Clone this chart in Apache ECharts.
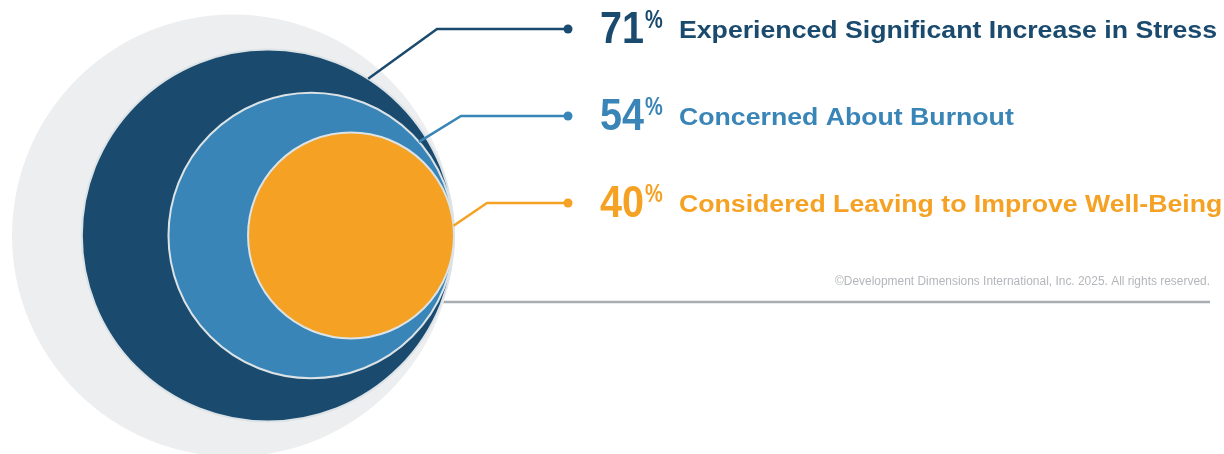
<!DOCTYPE html>
<html><head><meta charset="utf-8">
<script src="https://cdn.jsdelivr.net/npm/echarts@6/dist/echarts.min.js"></script>
<style>html,body{margin:0;padding:0;background:#fff}#c{width:1224px;height:454px}</style>
</head><body><div id="c"></div>
<script>
// ---- data ----
const categories = [
  'Experienced Significant Increase in Stress',
  'Concerned About Burnout',
  'Considered Leaving to Improve Well-Being'
];
const percents = [71, 54, 40];
// circle diameters, relative to the outer grey disc (= 100)
const circleDiameters = [84.2, 64.6, 46.6];
const backdropDiameter = [100];
const copyright = '\u00A9Development Dimensions International, Inc. 2025. All rights reserved.';

// ---- style / layout ----
const colors = ['#1a4a6d', '#3a85b7', '#f5a224'];
const FONT = '"Liberation Sans", Arial, sans-serif';
const rowY = [29, 116, 203];          // leader dot rows
const leaderAngle = [57.4, 41, 5.4];  // where leaders leave each circle (deg)
const elbowX = [437, 461, 487];
const dotX = 568, digitX = 600, pctX = 645, labelX = 679;

const ctx = document.createElement('canvas').getContext('2d');
function w(text, font) { ctx.font = font; return ctx.measureText(text).width; }
const digitFont = 'bold 45px ' + FONT;
const pctFont = 'bold 25px ' + FONT;
const labelFont = 'bold 24.5px ' + FONT;
const copyFont = '12px ' + FONT;
const digitScale = 44 / w('54', digitFont);
const labelScale = 538 / w(categories[0], labelFont);
const copyScale = 375 / w(copyright, copyFont);

const chart = echarts.init(document.getElementById('c'), null, {renderer: 'canvas'});

function renderBackdrop(params, api) {
  const d = api.value(0);
  const c = api.coord([100 - d / 2, 0]);
  const r = api.size([d / 2, 0])[0];
  return {type: 'circle', shape: {cx: c[0], cy: c[1], r: r}, style: {fill: '#edeef0'}};
}

function renderRing(params, api) {
  const i = params.dataIndex;
  const d = api.value(0);
  const c = api.coord([100 - d / 2, 0]);
  const r = api.size([d / 2, 0])[0];
  const a = leaderAngle[i] * Math.PI / 180;
  const sx = c[0] + r * Math.cos(a), sy = c[1] - r * Math.sin(a);
  const col = colors[i];
  const y = rowY[i];
  return {
    type: 'group',
    children: [
      {type: 'circle', shape: {cx: c[0], cy: c[1], r: r},
       style: {fill: col, stroke: '#dbe3e7', lineWidth: 2}},
      {type: 'polyline', shape: {points: [[sx, sy], [elbowX[i], y], [dotX, y]]},
       style: {stroke: col, lineWidth: 2.5, fill: null}},
      {type: 'circle', shape: {cx: dotX, cy: y, r: 4.5}, style: {fill: col}},
      {type: 'text', x: digitX, y: y + 1.5, scaleX: digitScale,
       style: {text: String(api.value(1)), font: digitFont, fill: col, align: 'left', verticalAlign: 'middle'}},
      {type: 'text', x: pctX, y: y - 8, scaleX: 0.8,
       style: {text: '%', font: pctFont, fill: col, align: 'left', verticalAlign: 'middle'}},
      {type: 'text', x: labelX, y: y + 2, scaleX: labelScale,
       style: {text: categories[i], font: labelFont, fill: col, align: 'left', verticalAlign: 'middle'}}
    ]
  };
}

chart.setOption({
  animation: false,
  grid: {left: 12, top: 17, width: 442, height: 442},
  xAxis: {type: 'value', min: 0, max: 100, show: false},
  yAxis: {type: 'value', min: -50, max: 50, show: false},
  series: [
    {type: 'custom', renderItem: renderBackdrop, data: backdropDiameter.map(d => [d]), silent: true},
    {type: 'custom', renderItem: renderRing,
     data: circleDiameters.map((d, i) => [d, percents[i]]), silent: true}
  ],
  graphic: [
    {type: 'line', shape: {x1: 443, y1: 302, x2: 1210, y2: 302},
     style: {stroke: '#a9acb1', lineWidth: 2.5}},
    {type: 'text', x: 1210, y: 282, scaleX: copyScale,
     style: {text: copyright, font: copyFont, fill: '#b3b6ba', align: 'right', verticalAlign: 'middle'}}
  ]
});
</script></body></html>
